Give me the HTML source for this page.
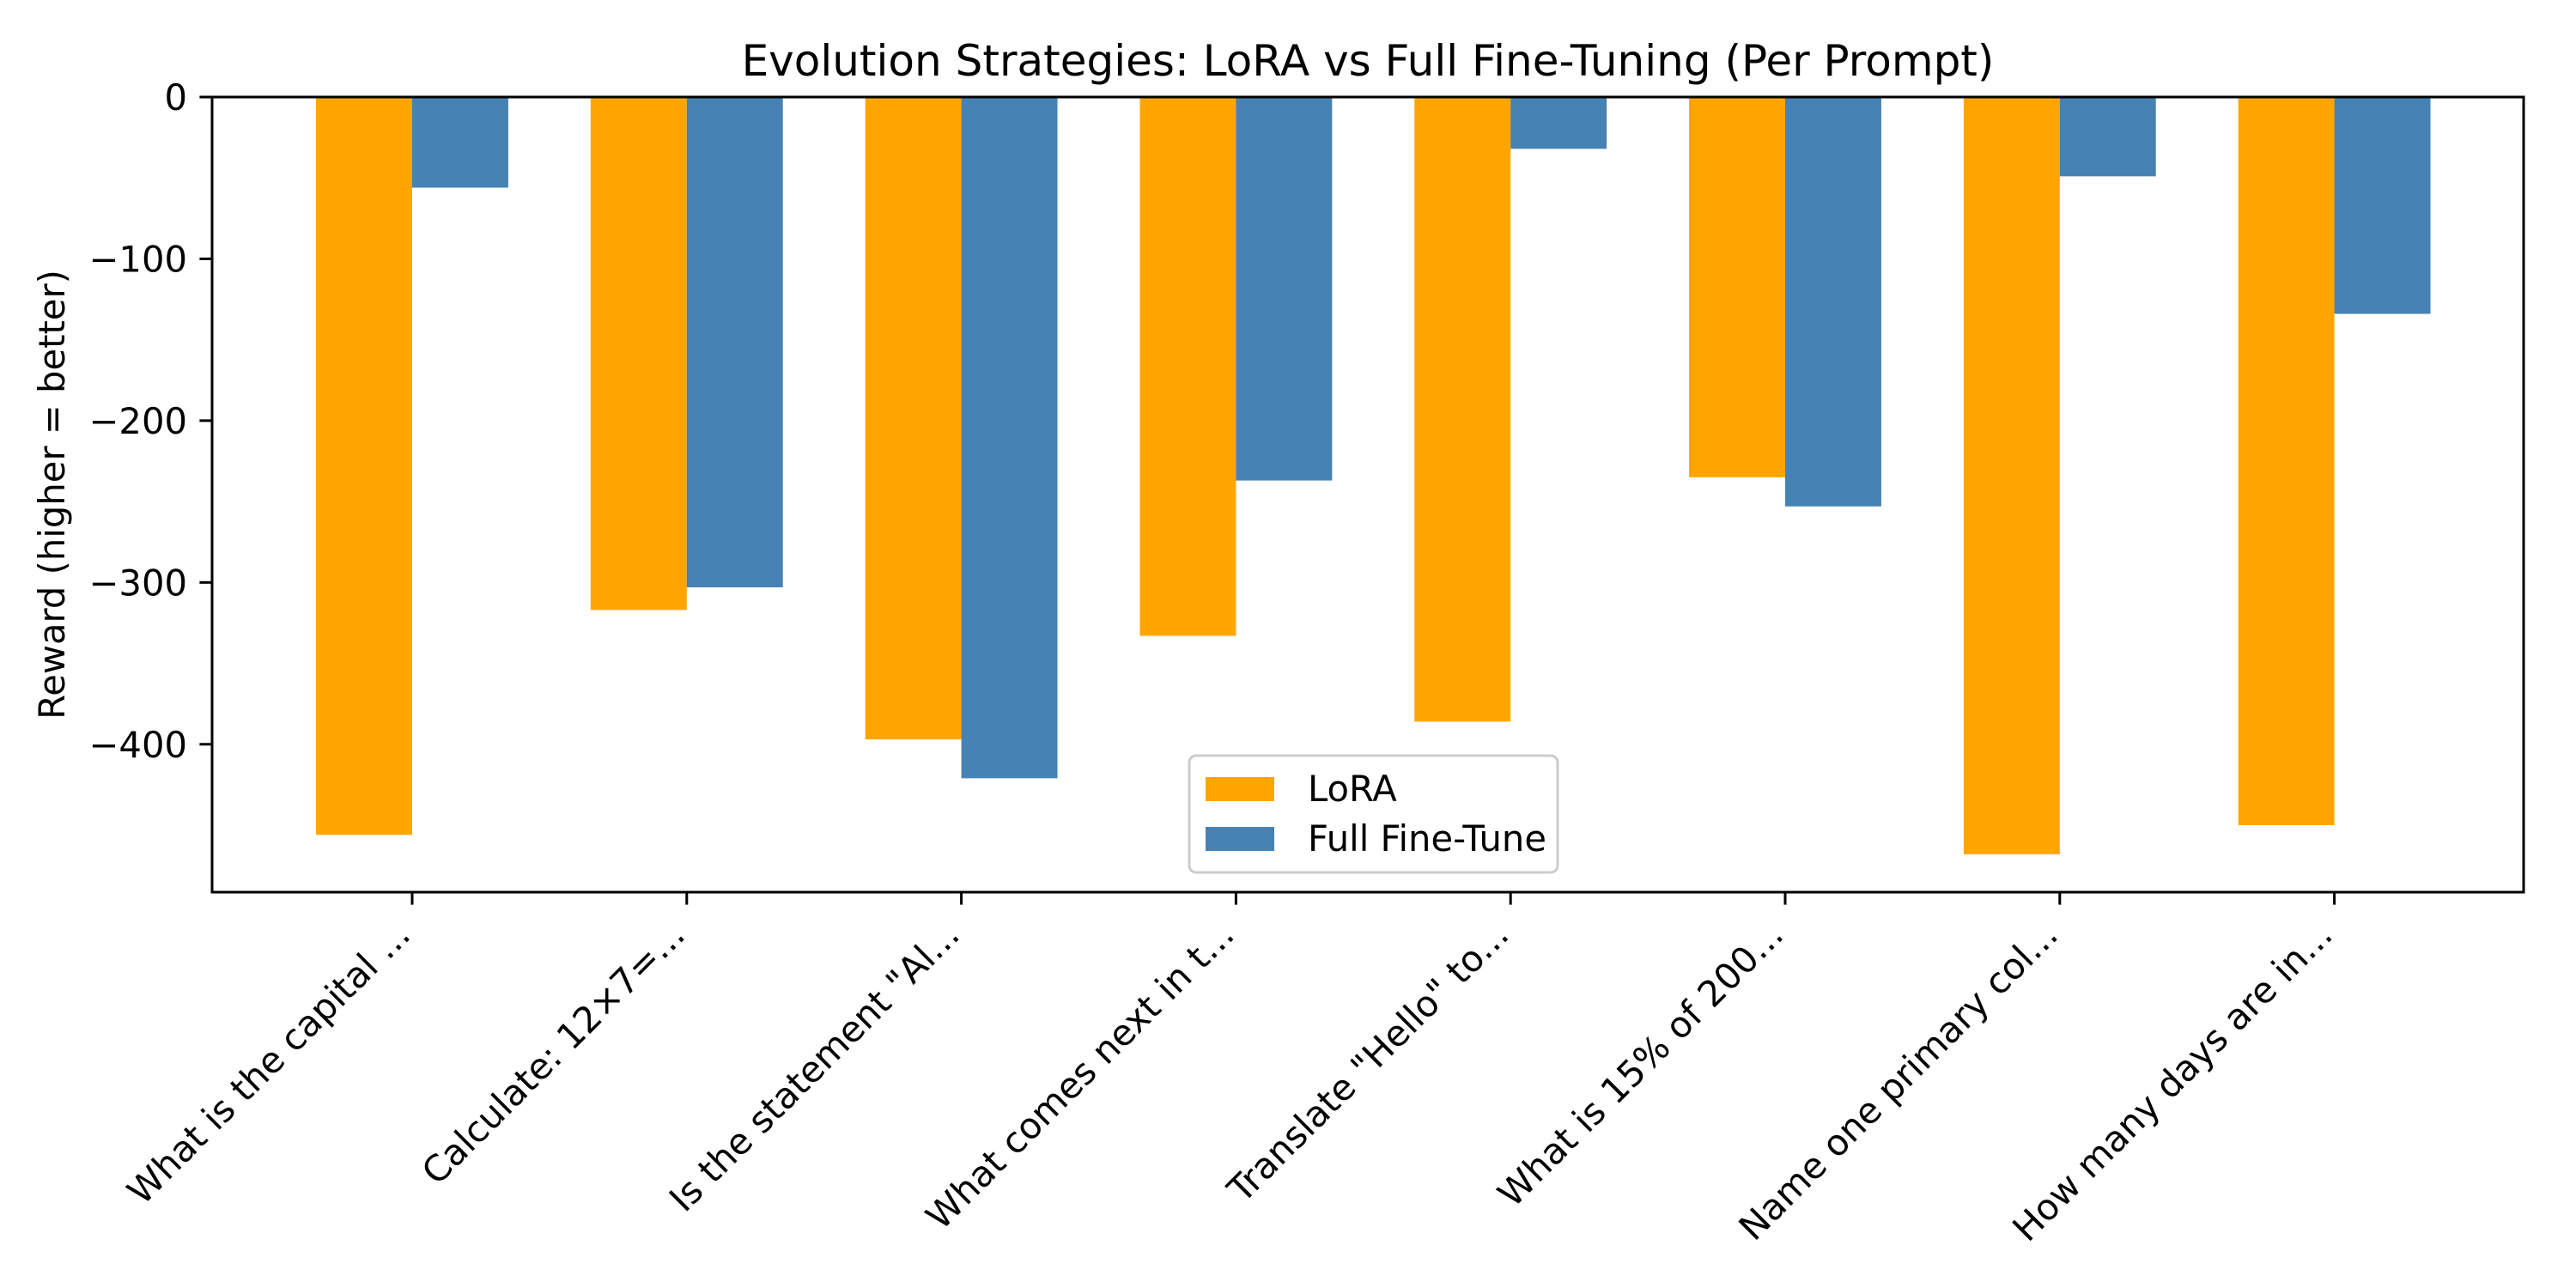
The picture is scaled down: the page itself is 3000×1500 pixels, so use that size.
<!DOCTYPE html>
<html><head><meta charset="utf-8"><style>
html,body{margin:0;padding:0;background:#fff;}
svg{display:block;font-family:"DejaVu Sans","Liberation Sans",sans-serif;}
</style></head><body>
<svg id="chart" width="3000" height="1500" viewBox="0 0 3000 1500">
<rect width="3000" height="1500" fill="#fff"/>
<text x="1593" y="88" font-size="50" text-anchor="middle" fill="#000">Evolution Strategies: LoRA vs Full Fine-Tuning (Per Prompt)</text>
<text transform="translate(75,576) rotate(-90)" font-size="41.7" text-anchor="middle" fill="#000">Reward (higher = better)</text>
<g id="bars"></g><g id="xticks"></g><g id="yticks"></g>
<rect x="247" y="113" width="2692" height="926" fill="none" stroke="#000" stroke-width="3"/>
<g>
<rect x="1385" y="880" width="429" height="136" rx="8" fill="#fff" fill-opacity="0.8" stroke="#ccc" stroke-width="3"/>
<rect x="1404" y="905" width="80" height="28" fill="#FFA500"/>
<text x="1523" y="933" font-size="41.7" fill="#000">LoRA</text>
<rect x="1404" y="963" width="80" height="28" fill="#4682B4"/>
<text x="1523" y="991" font-size="41.7" fill="#000">Full Fine-Tune</text>
</g>
</svg>
<script>
const categories = ['What is the capital ...','Calculate: 12×7=...','Is the statement "Al...','What comes next in t...','Translate "Hello" to...','What is 15% of 200...','Name one primary col...','How many days are in...'];
const loraValues = [-456, -317, -397, -333, -386, -235, -468, -450];
const fullValues = [-56, -303, -421, -237, -32, -253, -49, -134];
const yTicks = [0, -100, -200, -300, -400];

const NS = 'http://www.w3.org/2000/svg';
const L = 247, R = 2939, T = 113, B = 1039;
const allVals = loraValues.concat(fullValues);
const minV = Math.min(0, ...allVals), maxV = Math.max(0, ...allVals);
const yMin = minV - 0.05 * (maxV - minV), yMax = maxV;
const xs = v => 480 + v * 319.8;
const ys = v => T + (yMax - v) / (yMax - yMin) * (B - T);
function mk(tag, attrs, parent) { const e = document.createElementNS(NS, tag); for (const k in attrs) e.setAttribute(k, attrs[k]); parent.appendChild(e); return e; }
const gb = document.getElementById('bars'), gx = document.getElementById('xticks'), gy = document.getElementById('yticks');
const w = 0.35;
categories.forEach((c, i) => {
  [[loraValues[i], -w / 2, '#FFA500', 'lora'], [fullValues[i], w / 2, '#4682B4', 'full']].forEach(([v, off, col, nm]) => {
    const x0 = xs(i + off - w / 2), x1 = xs(i + off + w / 2);
    const y0 = ys(Math.max(0, v)), y1 = ys(Math.min(0, v));
    const r = mk('rect', { x: x0, y: y0, width: x1 - x0, height: y1 - y0, fill: col }, gb);
    
    
  });
  const tx = xs(i);
  const tk = mk('line', { x1: tx, x2: tx, y1: B, y2: B + 14.6, stroke: '#000', 'stroke-width': 3 }, gx);
  
  
  const t = mk('text', { transform: 'translate(' + (tx - 22) + ',' + (B + 30) + ') rotate(-45)', 'font-size': 41.7, 'text-anchor': 'end', 'dominant-baseline': 'hanging', fill: '#000' }, gx);
  t.textContent = c;
  
  
});
yTicks.forEach(v => {
  const y = ys(v);
  const tk = mk('line', { x1: L - 14.6, x2: L, y1: y, y2: y, stroke: '#000', 'stroke-width': 3 }, gy);
  
  
  const t = mk('text', { x: L - 29, y: y + 15, 'font-size': 41.7, 'text-anchor': 'end', fill: '#000' }, gy);
  t.textContent = v < 0 ? '\u2212' + Math.abs(v) : String(v);
  
  
});
</script>
</body></html>
